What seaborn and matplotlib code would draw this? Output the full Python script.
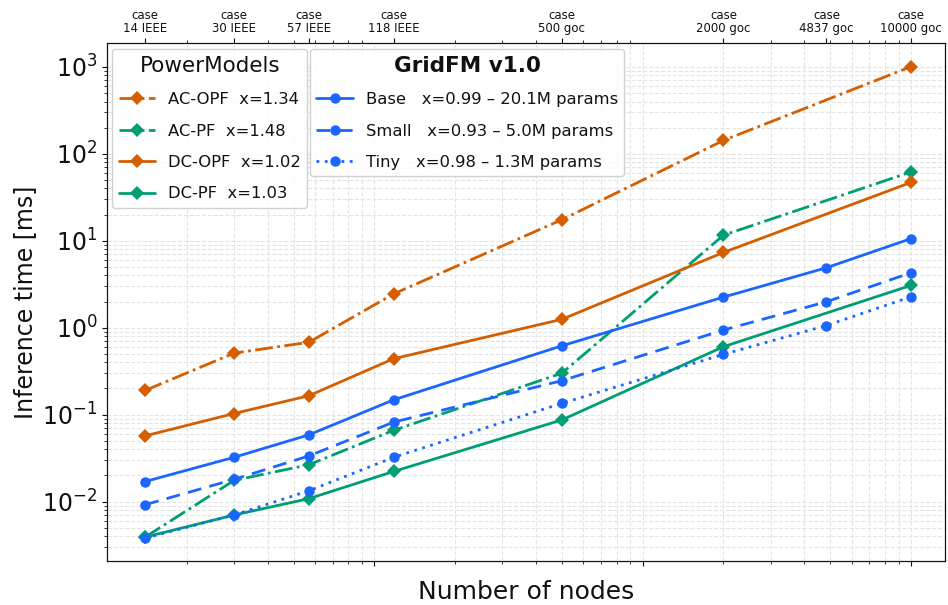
import numpy as np
import pandas as pd
import matplotlib
matplotlib.use('Agg')
import matplotlib.pyplot as plt
import seaborn as sns

# Data
nodes = [14, 30, 57, 118, 500, 2000, 10000]
nodes_fm = [14, 30, 57, 118, 500, 2000, 4837, 10000]
case_labels = ['case\n14 IEEE', 'case\n30 IEEE', 'case\n57 IEEE', 'case\n118 IEEE',
               'case\n500 goc', 'case\n2000 goc', 'case\n4837 goc', 'case\n10000 goc']

ac_opf = [0.19, 0.51, 0.68, 2.45, 17.5, 143, 1010]
ac_pf = [0.0039, 0.0175, 0.0265, 0.066, 0.30, 11.6, 62]
dc_opf = [0.057, 0.103, 0.165, 0.44, 1.25, 7.35, 47]
dc_pf = [0.0039, 0.0070, 0.0108, 0.0222, 0.087, 0.605, 3.07]

base = [0.017, 0.0323, 0.0585, 0.148, 0.62, 2.25, 4.9, 10.6]
small = [0.0092, 0.018, 0.0335, 0.082, 0.246, 0.94, 1.99, 4.29]
tiny = [0.0038, 0.0070, 0.0133, 0.0323, 0.135, 0.494, 1.06, 2.27]

pm_labels = ['AC-OPF  x=1.34', 'AC-PF  x=1.48', 'DC-OPF  x=1.02', 'DC-PF  x=1.03']
fm_labels = ['Base   x=0.99 – 20.1M params', 'Small   x=0.93 – 5.0M params',
             'Tiny   x=0.98 – 1.3M params']

orange = '#D55E00'
green = '#009E73'
blue = '#1a66ff'

sns.set_style('ticks')
plt.rcParams['font.family'] = ['DejaVu Sans']
plt.rcParams['text.color'] = '#111111'
plt.rcParams['axes.labelcolor'] = '#111111'
plt.rcParams['xtick.color'] = '#111111'
plt.rcParams['ytick.color'] = '#111111'
plt.rcParams['axes.edgecolor'] = '#111111'

fig = plt.figure(figsize=(9.48, 6.05), dpi=100)
ax = fig.add_axes([0.113, 0.073, 0.884, 0.856])

pm_series = [(ac_opf, orange, '-.'), (ac_pf, green, '-.'),
             (dc_opf, orange, '-'), (dc_pf, green, '-')]
pm_handles = []
for (vals, col, ls), lab in zip(pm_series, pm_labels):
    sns.lineplot(x=nodes, y=vals, ax=ax, color=col, linestyle=ls, linewidth=2,
                 marker='D', markersize=7.5, markeredgewidth=0, label=lab, legend=False)
    pm_handles.append(ax.lines[-1])

fm_series = [(base, '-'), (small, (0, (5, 3))), (tiny, (0, (1, 2)))]
fm_handles = []
for (vals, ls), lab in zip(fm_series, fm_labels):
    sns.lineplot(x=nodes_fm, y=vals, ax=ax, color=blue, linestyle=ls, linewidth=2,
                 marker='o', markersize=7.5, markeredgewidth=0, label=lab, legend=False)
    fm_handles.append(ax.lines[-1])

ax.set_xscale('log')
ax.set_yscale('log')
ax.set_xlim(10.1, 13400)
ax.set_ylim(0.00208, 1890)
ax.grid(True, which='both', linestyle='--', color='#e4e4e4', linewidth=0.8)
ax.tick_params(axis='x', which='both', labelbottom=False)
ax.tick_params(axis='y', labelsize=17)
ax.set_ylabel('Inference time [ms]', fontsize=17)
ax.set_xlabel('Number of nodes', fontsize=18, labelpad=10)

top = ax.twiny()
top.set_xscale('log')
top.set_xlim(ax.get_xlim())
top.set_xticks(nodes_fm)
top.set_xticklabels(case_labels, fontsize=8.5, linespacing=1.0)
top.xaxis.set_minor_formatter(matplotlib.ticker.NullFormatter())
top.tick_params(axis='x', pad=2)

leg1 = ax.legend(handles=pm_handles, labels=pm_labels, loc='upper left',
                 bbox_to_anchor=(0.006, 0.988), borderaxespad=0, title='PowerModels',
                 fontsize=11.8, title_fontsize=15.5, frameon=True, framealpha=0.9,
                 edgecolor='#cccccc', handlelength=2.2, labelspacing=1.0)
ax.add_artist(leg1)
leg2 = ax.legend(handles=fm_handles, labels=fm_labels, loc='upper left',
                 bbox_to_anchor=(0.242, 0.988), borderaxespad=0, title='GridFM v1.0',
                 fontsize=11.8, title_fontsize=15.5, frameon=True, framealpha=0.9,
                 edgecolor='#cccccc', handlelength=2.2, labelspacing=1.0)
leg2.get_title().set_fontweight('bold')

fig.savefig('out.png', dpi=100)
